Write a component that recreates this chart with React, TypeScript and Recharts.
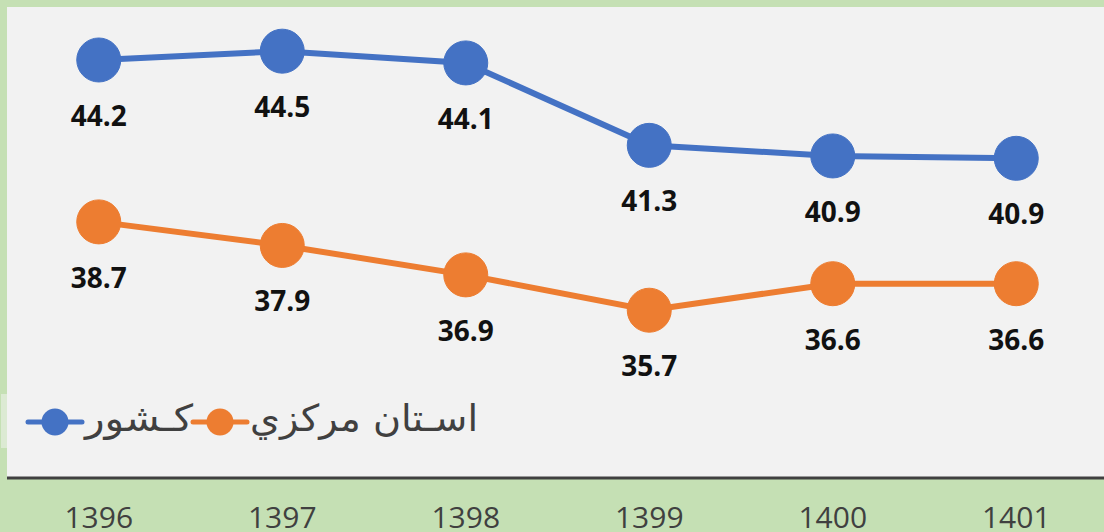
import { LineChart, Line, XAxis, YAxis, CartesianGrid, Legend, LabelList } from 'recharts';

const years = ['1396', '1397', '1398', '1399', '1400', '1401'];
const countryValues = [44.2, 44.5, 44.1, 41.3, 40.94, 40.86];
const provinceValues = [38.7, 37.9, 36.9, 35.7, 36.6, 36.6];
const countryName = 'کـشور';
const provinceName = 'اسـتان مرکزي';

const data = years.map((y, i) => ({
  year: y,
  country: countryValues[i],
  province: provinceValues[i],
}));

const BLUE = '#4472C4';
const ORANGE = '#ED7D31';

const ValueLabel = (props: any) => {
  const { x, y, value } = props;
  return (
    <text
      x={x}
      y={y + 66}
      textAnchor="middle"
      fontFamily="'Open Sans', sans-serif"
      fontWeight={700}
      fontSize={28}
      fill="#111111"
    >
      {Number(value).toFixed(1)}
    </text>
  );
};

const YearTick = (props: any) => {
  const { x, y, payload } = props;
  return (
    <text
      x={x}
      y={y + 50}
      textAnchor="middle"
      fontFamily="'Open Sans', sans-serif"
      fontSize={30}
      fill="#404040"
    >
      {payload.value}
    </text>
  );
};

const LegendIcon = ({ cx, color }: { cx: number; color: string }) => (
  <g>
    <line x1={cx - 27} x2={cx + 27} y1={32} y2={32} stroke={color} strokeWidth={5} strokeLinecap="round" />
    <circle cx={cx} cy={32} r={13.5} fill={color} />
  </g>
);

const renderLegend = () => (
  <svg width={500} height={64} style={{ display: 'block' }}>
    <rect x={1} y={4} width={6} height={54} fill="#DCEAD3" />
    <LegendIcon cx={55} color={BLUE} />
    <text
      x={139}
      y={41}
      textAnchor="middle"
      textLength={108}
      lengthAdjust="spacingAndGlyphs"
      fontFamily="'DejaVu Sans', sans-serif"
      fontSize={37}
      fill="#404040"
    >
      {countryName}
    </text>
    <LegendIcon cx={220} color={ORANGE} />
    <text
      x={364}
      y={41}
      textAnchor="middle"
      textLength={228}
      lengthAdjust="spacingAndGlyphs"
      fontFamily="'DejaVu Sans', sans-serif"
      fontSize={37}
      fill="#404040"
    >
      {provinceName}
    </text>
  </svg>
);

export default function App() {
  return (
    <div
      style={{
        position: 'absolute',
        left: 0,
        top: 0,
        width: 1104,
        height: 532,
        overflow: 'hidden',
        background: '#C5E0B4',
      }}
    >
      <LineChart
        width={1108}
        height={532}
        data={data}
        margin={{ top: 7, right: 0, left: 7, bottom: 0 }}
      >
        <CartesianGrid fill="#F2F2F2" horizontal={false} vertical={false} />
        <XAxis
          dataKey="year"
          height={54}
          padding={{ left: 91.75, right: 91.75 }}
          axisLine={{ stroke: '#404040', strokeWidth: 3 }}
          tickLine={false}
          tickSize={0}
          tickMargin={0}
          tick={<YearTick />}
          interval={0}
        />
        <YAxis hide domain={[30, 46]} />
        <Legend
          layout="horizontal"
          verticalAlign="middle"
          align="center"
          content={renderLegend}
          wrapperStyle={{ left: 0, top: 390, width: 500, height: 64 }}
        />
        <Line
          dataKey="country"
          name={countryName}
          stroke={BLUE}
          strokeWidth={6}
          dot={{ r: 22, fill: BLUE, stroke: BLUE, strokeWidth: 1 }}
          activeDot={false}
          isAnimationActive={false}
        >
          <LabelList dataKey="country" content={<ValueLabel />} />
        </Line>
        <Line
          dataKey="province"
          name={provinceName}
          stroke={ORANGE}
          strokeWidth={6}
          dot={{ r: 22, fill: ORANGE, stroke: ORANGE, strokeWidth: 1 }}
          activeDot={false}
          isAnimationActive={false}
        >
          <LabelList dataKey="province" content={<ValueLabel />} />
        </Line>
      </LineChart>
    </div>
  );
}
